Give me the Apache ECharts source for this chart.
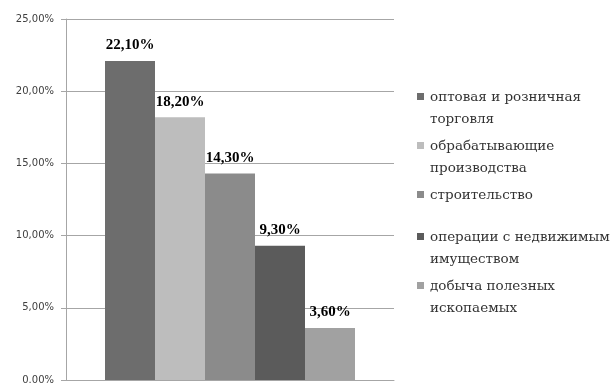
<!DOCTYPE html>
<html>
<head>
<meta charset="utf-8">
<script src="https://cdn.jsdelivr.net/npm/echarts@6/dist/echarts.min.js"></script>
<style>html,body{margin:0;padding:0;background:#fff}#c{width:614px;height:385px}</style>
</head>
<body>
<div id="c"></div>
<script>
const seriesNames = [
  'оптовая и розничная\nторговля',
  'обрабатывающие\nпроизводства',
  'строительство\n ',
  'операции с недвижимым\nимуществом',
  'добыча полезных\nископаемых'
];
const seriesValues = [22.1, 18.2, 14.3, 9.3, 3.6];
const seriesColors = ['#6d6d6d', '#bdbdbd', '#8b8b8b', '#5b5b5b', '#a1a1a1'];
const categories = [''];
const yTicks = [0, 5, 10, 15, 20, 25];

const fmt = v => v.toFixed(2).replace('.', ',') + '%';
const icon = 'path://M0,0M0,44M0,7L7,7L7,14L0,14Z';

const chart = echarts.init(document.getElementById('c'), null, {renderer: 'canvas'});
const legendBase = {
  orient: 'vertical',
  left: 412,
  padding: 5,
  itemWidth: 7,
  itemHeight: 44,
  itemGap: 5,
  icon: icon,
  selectedMode: false,
  textStyle: {fontFamily: '"DejaVu Serif", serif', fontSize: 13.5, color: '#333', lineHeight: 22, padding: [0, 0, 0, 1]}
};
chart.setOption({
  animation: false,
  backgroundColor: '#fff',
  grid: {left: 66, right: 220, top: 19, bottom: 4, containLabel: false},
  legend: [
    Object.assign({}, legendBase, {top: 81, data: seriesNames.slice(0, 3)}),
    Object.assign({}, legendBase, {top: 221, data: seriesNames.slice(3)})
  ],
  xAxis: {
    type: 'category',
    data: categories,
    axisLine: {show: true, lineStyle: {color: '#a6a6a6', width: 1}},
    axisTick: {show: false},
    axisLabel: {show: false}
  },
  yAxis: {
    type: 'value',
    min: yTicks[0],
    max: yTicks[yTicks.length - 1],
    interval: 5,
    axisLine: {show: true, lineStyle: {color: '#a6a6a6', width: 1}},
    axisTick: {show: true, length: 5, lineStyle: {color: '#a6a6a6'}},
    splitLine: {show: true, lineStyle: {color: '#a6a6a6', width: 1}},
    axisLabel: {
      margin: 12,
      fontFamily: 'DejaVu Sans',
      fontSize: 10,
      color: '#404040',
      formatter: v => v === 0 ? '0.00%' : fmt(v)
    }
  },
  series: seriesNames.map((name, i) => ({
    name: name,
    type: 'bar',
    barWidth: 50,
    barGap: 0,
    itemStyle: {color: seriesColors[i]},
    label: {
      show: true,
      position: 'top',
      distance: 8,
      fontFamily: 'Liberation Serif',
      fontWeight: 'bold',
      fontSize: 15,
      color: '#000',
      formatter: p => fmt(p.value)
    },
    data: [seriesValues[i]]
  }))
});
</script>
</body>
</html>
